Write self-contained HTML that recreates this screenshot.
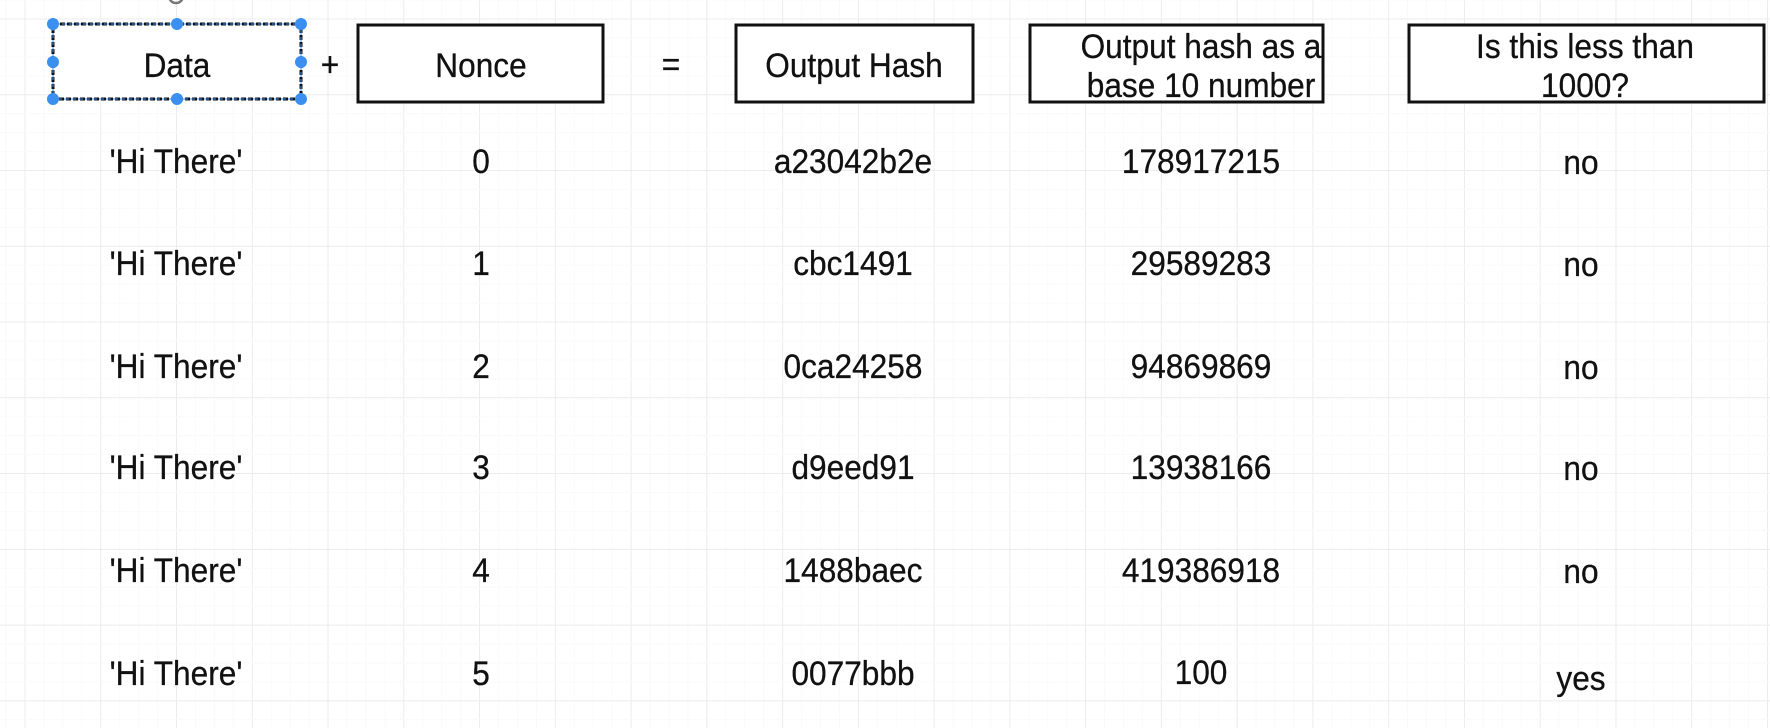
<!DOCTYPE html>
<html><head><meta charset="utf-8"><style>
html,body{margin:0;padding:0;background:#fff;width:1770px;height:728px;overflow:hidden;}
body{position:relative;font-family:"Liberation Sans",Arial,sans-serif;color:#111;}
svg{position:absolute;left:0;top:0;display:block;}
</style></head><body>
<svg width="1770" height="728" viewBox="0 0 1770 728">
<g id="grid"></g>
<rect x="53" y="24" width="248" height="75" fill="#fff" stroke="#111" stroke-width="3" stroke-dasharray="5 2"/>
<rect x="53" y="24" width="248" height="75" fill="none" stroke="#3b8ff0" stroke-width="1" stroke-dasharray="5 2" stroke-dashoffset="5"/>
<g fill="#3b8ff0"><circle cx="53" cy="24" r="6"/><circle cx="177" cy="24" r="6"/><circle cx="301" cy="24" r="6"/><circle cx="53" cy="62" r="6"/><circle cx="301" cy="62" r="6"/><circle cx="53" cy="99" r="6"/><circle cx="177" cy="99" r="6"/><circle cx="301" cy="99" r="6"/></g>
<circle cx="176" cy="-4" r="7" fill="none" stroke="#777" stroke-width="2.5"/>
<rect x="358" y="25" width="245" height="77" fill="#fff" stroke="#111" stroke-width="3"/>
<rect x="736" y="25" width="237" height="77" fill="#fff" stroke="#111" stroke-width="3"/>
<rect x="1030" y="25" width="293" height="77" fill="#fff" stroke="#111" stroke-width="3"/>
<rect x="1409" y="25" width="355" height="77" fill="#fff" stroke="#111" stroke-width="3"/>
<g id="t" font-family="Liberation Sans, Arial, sans-serif" font-size="34" text-anchor="middle" fill="#111" stroke="#111" stroke-width="0.3">
<text x="177" y="77">Data</text>
<text x="330" y="76">+</text>
<text x="481" y="77">Nonce</text>
<text x="671" y="76">=</text>
<text x="854" y="77">Output Hash</text>
<text x="1201" y="58">Output hash as a</text>
<text x="1201" y="97">base 10 number</text>
<text x="1585" y="58">Is this less than</text>
<text x="1585" y="97">1000?</text>
<text x="176" y="173">'Hi There'</text><text x="481" y="173">0</text><text x="853" y="173">a23042b2e</text><text x="1201" y="173">178917215</text><text x="1581" y="174">no</text>
<text x="176" y="275">'Hi There'</text><text x="481" y="275">1</text><text x="853" y="275">cbc1491</text><text x="1201" y="275">29589283</text><text x="1581" y="276">no</text>
<text x="176" y="378">'Hi There'</text><text x="481" y="378">2</text><text x="853" y="378">0ca24258</text><text x="1201" y="378">94869869</text><text x="1581" y="379">no</text>
<text x="176" y="479">'Hi There'</text><text x="481" y="479">3</text><text x="853" y="479">d9eed91</text><text x="1201" y="479">13938166</text><text x="1581" y="480">no</text>
<text x="176" y="582">'Hi There'</text><text x="481" y="582">4</text><text x="853" y="582">1488baec</text><text x="1201" y="582">419386918</text><text x="1581" y="583">no</text>
<text x="176" y="685">'Hi There'</text><text x="481" y="685">5</text><text x="853" y="685">0077bbb</text><text x="1201" y="684">100</text><text x="1581" y="690">yes</text>
</g>
</svg>
<script>
var g=document.getElementById('grid'),s='';
for(var i=-1;i<100;i++){var x=25+i*18.94;var maj=(i%4===0);
s+='<line x1="'+x+'" y1="0" x2="'+x+'" y2="728" stroke="'+(maj?'#ececec':'#fafafa')+'" stroke-width="1"/>';}
for(var j=-1;j<39;j++){var y=19+j*18.94;var maj=(j%4===0);
s+='<line x1="0" y1="'+y+'" x2="1770" y2="'+y+'" stroke="'+(maj?'#ececec':'#fafafa')+'" stroke-width="1"/>';}
g.innerHTML=s;
var ts=document.querySelectorAll('#t text');
for(var k=0;k<ts.length;k++){var cx=ts[k].getAttribute('x');
ts[k].setAttribute('transform','translate('+cx+',0) scale(0.93,1) translate('+(-cx)+',0)');}
</script>
</body></html>
